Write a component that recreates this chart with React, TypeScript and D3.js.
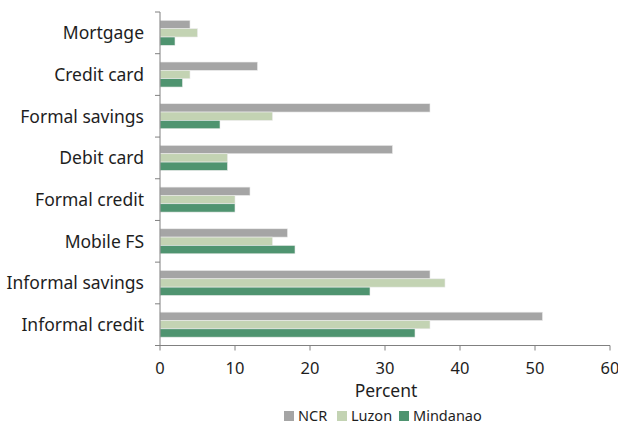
import React from "react";
import * as d3 from "d3";

const categories = ["Mortgage", "Credit card", "Formal savings", "Debit card", "Formal credit", "Mobile FS", "Informal savings", "Informal credit"];
const seriesNames = ["NCR", "Luzon", "Mindanao"];
const ncr = [4, 13, 36, 31, 12, 17, 36, 51];
const luzon = [5, 4, 15, 9, 10, 15, 38, 36];
const mindanao = [2, 3, 8, 9, 10, 18, 28, 34];
const colors = ["#a5a5a5", "#c3d3b3", "#4f9470"];
const xTicks = [0, 10, 20, 30, 40, 50, 60];

const W = 618, H = 426;
const font = "'Noto Sans', sans-serif";
const textColor = "#1e1e1e";
const axisColor = "#808080";

export default function App() {
  const series = [ncr, luzon, mindanao];
  const x = d3.scaleLinear().domain([0, 60]).range([160, 610]);
  const y = d3.scaleBand<string>().domain(categories).range([12, 345.5]).paddingInner(0.4).paddingOuter(0.2);
  const yOuter = d3.scaleBand<string>().domain(categories).range([12, 345.5]);
  const sub = d3.scaleBand<string>().domain(seriesNames).range([0, y.bandwidth()]);
  const legendItems = [
    { name: "NCR", x: 284 },
    { name: "Luzon", x: 337 },
    { name: "Mindanao", x: 399 },
  ];
  return (
    <svg width={W} height={H} style={{ position: "absolute", left: 0, top: 0, background: "#fff" }} fontFamily={font}>
      {categories.map((c, i) => (
        <g key={c}>
          {series.map((s, j) => (
            <rect
              key={j}
              x={x(0)}
              y={(y(c) as number) + (sub(seriesNames[j]) as number)}
              width={x(s[i]) - x(0)}
              height={sub.bandwidth()}
              fill={colors[j]}
              stroke="#ececec"
              strokeWidth={0.6}
            />
          ))}
          <text
            x={144}
            y={(yOuter(c) as number) + yOuter.bandwidth() / 2 - 0.5}
            textAnchor="end"
            dominantBaseline="central"
            fontSize={17.5}
            fill={textColor}
          >
            {c}
          </text>
        </g>
      ))}
      {/* y axis */}
      <line x1={160} x2={160} y1={12} y2={345.5} stroke={axisColor} strokeWidth={1} />
      {[...categories.map((c) => yOuter(c) as number), 345.5].map((v, i) => (
        <line key={i} x1={155} x2={160} y1={v} y2={v} stroke={axisColor} strokeWidth={1} />
      ))}
      {/* x axis */}
      <line x1={155} x2={x(60)} y1={345.5} y2={345.5} stroke={axisColor} strokeWidth={1} />
      {xTicks.map((t) => (
        <g key={t}>
          <line x1={x(t)} x2={x(t)} y1={345.5} y2={350.5} stroke={axisColor} strokeWidth={1} />
          <text x={x(t)} y={367} textAnchor="middle" dominantBaseline="central" fontSize={16.5} fill={textColor}>
            {t}
          </text>
        </g>
      ))}
      <text x={386} y={390} textAnchor="middle" dominantBaseline="central" fontSize={17.5} fill={textColor}>
        Percent
      </text>
      {legendItems.map((l, j) => (
        <g key={l.name}>
          <rect x={l.x} y={411} width={10} height={10} fill={colors[j]} />
          <text x={l.x + 14} y={420.5} fontSize={14.5} fill={textColor}>
            {l.name}
          </text>
        </g>
      ))}
    </svg>
  );
}
